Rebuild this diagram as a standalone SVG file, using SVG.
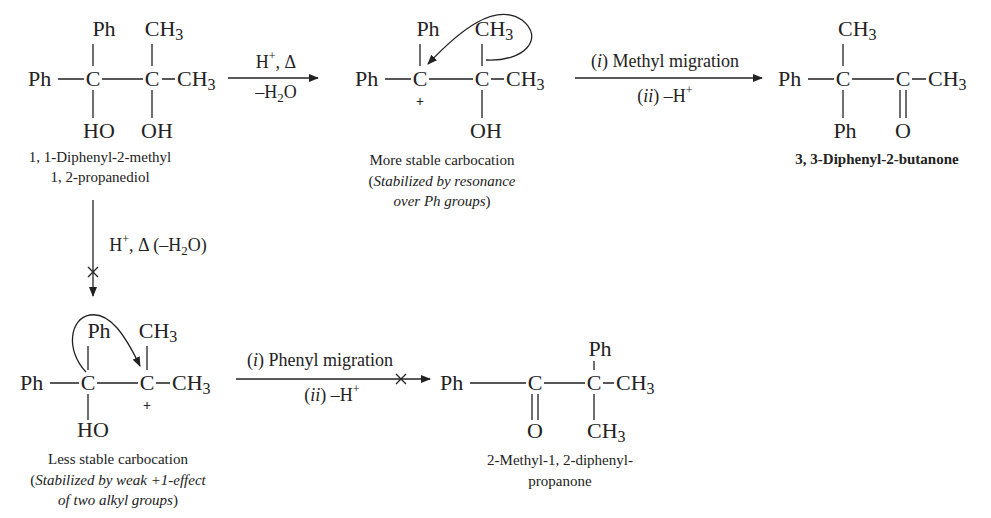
<svg xmlns="http://www.w3.org/2000/svg" width="991" height="518" viewBox="0 0 991 518">
<style>
text{font-family:"Liberation Serif",serif;fill:#222}
.s{font-size:22px}
.l{font-size:15px;text-anchor:middle}
.a{font-size:18px;text-anchor:middle}
.c{text-anchor:middle}
.b{stroke:#222;stroke-width:1.3;fill:none}
.sm{font-size:14px;font-weight:bold}
</style>
<defs><marker id="ah" markerWidth="10" markerHeight="8" refX="9" refY="4" orient="auto" markerUnits="userSpaceOnUse"><path d="M0,0L10,4L0,8z" fill="#222"/></marker></defs>
<rect width="991" height="518" fill="#fff"/>
<g id="diol">
<text class="s c" x="104" y="36">Ph</text><text class="s c" x="164" y="36">CH<tspan font-size="16" dy="4">3</tspan></text>
<text class="s" x="28" y="86">Ph</text><text class="s c" x="93" y="86">C</text><text class="s c" x="152" y="86">C</text><text class="s" x="177" y="86">CH<tspan font-size="16" dy="4">3</tspan></text>
<path class="b" d="M58,79H84M102,79H143M162,79H175M93,44V66M152,44V66M93,90V118M152,90V118"/>
<text class="s c" x="99" y="138">HO</text><text class="s c" x="157" y="138">OH</text>
<text class="l" x="100" y="162">1, 1-Diphenyl-2-methyl</text><text class="l" x="100" y="182">1, 2-propanediol</text>
</g>
<g id="cation1">
<text class="s c" x="428" y="36">Ph</text><text class="s c" x="494" y="36">CH<tspan font-size="16" dy="4">3</tspan></text>
<text class="s" x="355" y="86">Ph</text><text class="s c" x="420" y="86">C</text><text class="s c" x="482" y="86">C</text><text class="s" x="506" y="86">CH<tspan font-size="16" dy="4">3</tspan></text>
<text class="sm c" x="420" y="106">+</text>
<path class="b" d="M385,79H411M429,79H473M491,79H504M420,44V66M482,44V66M482,90V118"/>
<text class="s c" x="486" y="138">OH</text>
<path class="b" d="M486,60C525,62 545,38 522,20C495,2 460,30 428,64" marker-end="url(#ah)"/>
<text class="l" x="442" y="165">More stable carbocation</text>
<text class="l" x="442" y="186">(<tspan font-style="italic">Stabilized by resonance</tspan></text>
<text class="l" x="442" y="206"><tspan font-style="italic">over Ph groups</tspan>)</text>
</g>
<g id="ketone1">
<text class="s" x="838" y="36">CH<tspan font-size="16" dy="4">3</tspan></text>
<text class="s" x="778" y="86">Ph</text><text class="s c" x="843" y="86">C</text><text class="s c" x="903" y="86">C</text><text class="s" x="928" y="86">CH<tspan font-size="16" dy="4">3</tspan></text>
<path class="b" d="M808,79H834M852,79H894M912,79H926M843,44V66M843,90V118M900,90V118M906,90V118"/>
<text class="s c" x="845" y="138">Ph</text><text class="s c" x="903" y="138">O</text>
<text class="l" x="877" y="164" font-weight="bold">3, 3-Diphenyl-2-butanone</text>
</g>
<g id="cation2">
<text class="s c" x="99" y="338">Ph</text><text class="s c" x="158" y="338">CH<tspan font-size="16" dy="4">3</tspan></text>
<text class="s" x="20" y="390">Ph</text><text class="s c" x="88" y="390">C</text><text class="s c" x="147" y="390">C</text><text class="s" x="172" y="390">CH<tspan font-size="16" dy="4">3</tspan></text>
<text class="sm c" x="147" y="410">+</text>
<path class="b" d="M50,383H79M97,383H138M156,383H170M88,346V370M147,346V370M88,394V420"/>
<text class="s c" x="93" y="437">HO</text>
<path class="b" d="M86,372C65,350 70,318 90,315C110,312 125,335 140,366" marker-end="url(#ah)"/>
<text class="l" x="118" y="464">Less stable carbocation</text>
<text class="l" x="118" y="485">(<tspan font-style="italic">Stabilized by weak +1-effect</tspan></text>
<text class="l" x="118" y="505"><tspan font-style="italic">of two alkyl groups</tspan>)</text>
</g>
<g id="ketone2">
<text class="s c" x="600" y="356">Ph</text>
<text class="s" x="440" y="390">Ph</text><text class="s c" x="535" y="390">C</text><text class="s c" x="594" y="390">C</text><text class="s" x="616" y="390">CH<tspan font-size="16" dy="4">3</tspan></text>
<path class="b" d="M470,383H526M544,383H585M603,383H614M594,361V370M594,394V420M532,394V420M538,394V420"/>
<text class="s c" x="535" y="438">O</text><text class="s" x="587" y="438">CH<tspan font-size="16" dy="4">3</tspan></text>
<text class="l" x="560" y="465">2-Methyl-1, 2-diphenyl-</text><text class="l" x="560" y="486">propanone</text>
</g>
<g id="connectors">
<path class="b" d="M228,78H318" marker-end="url(#ah)"/>
<text class="a" x="276" y="68">H<tspan font-size="12" dy="-8">+</tspan><tspan dy="8">, Δ</tspan></text>
<text class="a" x="276" y="98">–H<tspan font-size="13" dy="4">2</tspan><tspan dy="-4">O</tspan></text>
<path class="b" d="M575,78H762" marker-end="url(#ah)"/>
<text class="a" x="665" y="67">(<tspan font-style="italic">i</tspan>) Methyl migration</text>
<text class="a" x="665" y="102">(<tspan font-style="italic">ii</tspan>) –H<tspan font-size="12" dy="-8">+</tspan></text>
<path class="b" d="M93,200V296" marker-end="url(#ah)"/>
<path class="b" d="M88,267L98,277M98,267L88,277"/>
<text class="a" x="158" y="251">H<tspan font-size="12" dy="-8">+</tspan><tspan dy="8">, Δ (–H</tspan><tspan font-size="13" dy="4">2</tspan><tspan dy="-4">O)</tspan></text>
<path class="b" d="M236,379H430" marker-end="url(#ah)"/>
<path class="b" d="M396,374L406,384M406,374L396,384"/>
<text class="a" x="320" y="366">(<tspan font-style="italic">i</tspan>) Phenyl migration</text>
<text class="a" x="332" y="401">(<tspan font-style="italic">ii</tspan>) –H<tspan font-size="12" dy="-8">+</tspan></text>
</g>
</svg>
